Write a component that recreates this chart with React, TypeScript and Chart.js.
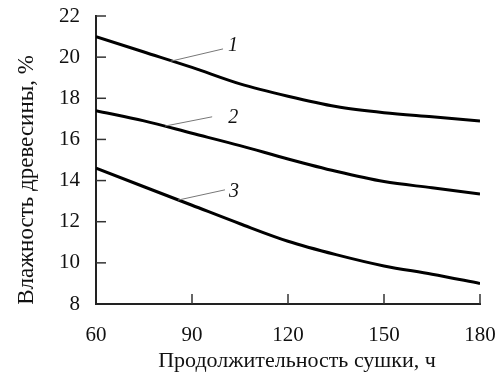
import React, { useEffect, useRef } from "react";
import { Chart, registerables } from "chart.js";

Chart.register(...registerables);

const xValues = [60, 75, 90, 105, 120, 135, 150, 165, 180];
const curve1 = [21.0, 20.25, 19.5, 18.7, 18.1, 17.6, 17.3, 17.1, 16.9];
const curve2 = [17.4, 16.9, 16.3, 15.7, 15.05, 14.45, 13.95, 13.65, 13.35];
const curve3 = [14.6, 13.7, 12.8, 11.9, 11.05, 10.4, 9.85, 9.45, 9.0];
const seriesNames = ["1", "2", "3"];
const xTicks = [60, 90, 120, 150, 180];
const yTicks = [8, 10, 12, 14, 16, 18, 20, 22];
const xTitle = "Продолжительность сушки, ч";
const yTitle = "Влажность древесины, %";
// leader lines: [x on curve, y on curve, x end, y end]
const leaders = [
  [83.3, 19.8, 99.7, 20.4],
  [81.6, 16.65, 96.3, 17.1],
  [85.6, 13.05, 100.3, 13.55],
];

const FONT = "'Liberation Serif', 'Times New Roman', serif";
const LABEL_OFFSETS = [
  [5, -3],
  [16, 1],
  [4, 2],
];

const decorPlugin = {
  id: "decor",
  afterDraw(chart: any) {
    const { ctx, chartArea, scales } = chart;
    const xs = scales.x;
    const ys = scales.y;
    ctx.save();
    // inward ticks
    ctx.strokeStyle = "#333";
    ctx.lineWidth = 1.5;
    yTicks.forEach((v) => {
      if (v === yTicks[0]) return;
      const py = ys.getPixelForValue(v);
      ctx.beginPath();
      ctx.moveTo(chartArea.left, py);
      ctx.lineTo(chartArea.left + 10, py);
      ctx.stroke();
    });
    xTicks.forEach((v) => {
      if (v === xTicks[0]) return;
      const px = xs.getPixelForValue(v);
      ctx.beginPath();
      ctx.moveTo(px, chartArea.bottom);
      ctx.lineTo(px, chartArea.bottom - 10);
      ctx.stroke();
    });
    // leader lines
    ctx.strokeStyle = "#777";
    ctx.lineWidth = 1;
    leaders.forEach((l, i) => {
      const x0 = xs.getPixelForValue(l[0]);
      const y0 = ys.getPixelForValue(l[1]);
      const x1 = xs.getPixelForValue(l[2]);
      const y1 = ys.getPixelForValue(l[3]);
      ctx.beginPath();
      ctx.moveTo(x0, y0);
      ctx.lineTo(x1, y1);
      ctx.stroke();
      ctx.fillStyle = "#111";
      ctx.font = `italic 20px ${FONT}`;
      ctx.textAlign = "left";
      ctx.textBaseline = "middle";
      ctx.fillText(seriesNames[i], x1 + LABEL_OFFSETS[i][0], y1 + LABEL_OFFSETS[i][1]);
    });
    // titles
    ctx.fillStyle = "#111";
    ctx.font = `22px ${FONT}`;
    ctx.textAlign = "center";
    ctx.textBaseline = "alphabetic";
    ctx.fillText(xTitle, 297, 367);
    ctx.font = `23px ${FONT}`;
    ctx.translate(33, 180);
    ctx.rotate(-Math.PI / 2);
    ctx.fillText(yTitle, 0, 0);
    ctx.restore();
  },
};

export default function App() {
  const ref = useRef<HTMLCanvasElement | null>(null);
  useEffect(() => {
    document.body.style.margin = "0";
    const mk = (d: number[]) => xValues.map((x, i) => ({ x, y: d[i] }));
    const ds = (d: number[]) => ({
      data: mk(d),
      borderColor: "#000",
      borderWidth: 3,
      pointRadius: 0,
      fill: false,
      cubicInterpolationMode: "monotone" as const,
    });
    const chart = new Chart(ref.current!, {
      type: "line",
      data: { datasets: [ds(curve1), ds(curve2), ds(curve3)] },
      options: {
        animation: false,
        responsive: false,
        events: [],
        layout: { padding: { top: 16, right: 20, left: 0, bottom: 0 } },
        plugins: { legend: { display: false }, tooltip: { enabled: false } },
        scales: {
          x: {
            type: "linear",
            min: 60,
            max: 180,
            afterBuildTicks: (s: any) => {
              s.ticks = xTicks.map((v) => ({ value: v }));
            },
            afterFit: (s: any) => {
              s.height = 70;
              s.paddingLeft = 0;
              s.paddingRight = 0;
            },
            grid: { display: false, drawTicks: false },
            border: { display: true, color: "#222", width: 2 },
            ticks: {
              padding: 19,
              color: "#111",
              font: { family: FONT, size: 21 },
              maxRotation: 0,
              autoSkip: false,
            },
          },
          y: {
            type: "linear",
            min: 8,
            max: 22,
            afterBuildTicks: (s: any) => {
              s.ticks = yTicks.map((v) => ({ value: v }));
            },
            afterFit: (s: any) => {
              s.width = 96;
              s.paddingTop = 0;
              s.paddingBottom = 0;
            },
            grid: { display: false, drawTicks: false },
            border: { display: true, color: "#222", width: 2 },
            ticks: {
              padding: 16,
              color: "#111",
              font: { family: FONT, size: 21 },
              autoSkip: false,
            },
          },
        },
      },
      plugins: [decorPlugin],
    });
    return () => chart.destroy();
  }, []);
  return (
    <div style={{ width: 500, height: 374 }}>
      <canvas ref={ref} width={500} height={374} />
    </div>
  );
}
